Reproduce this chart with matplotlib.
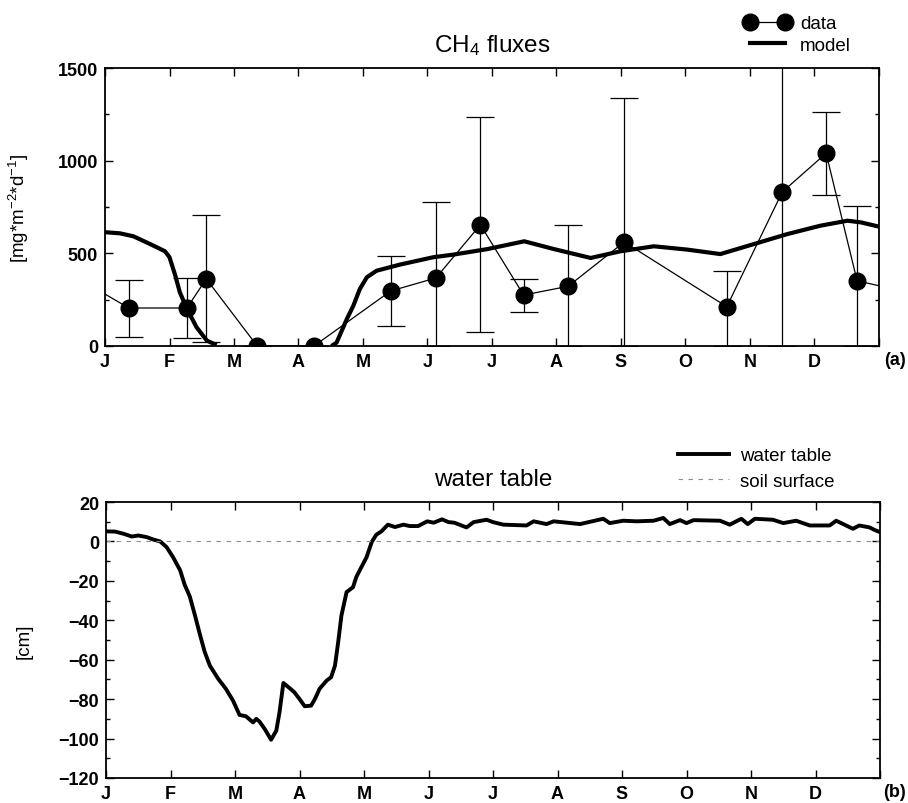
import numpy as np
import matplotlib
matplotlib.use("Agg")
import matplotlib.pyplot as plt
from matplotlib.lines import Line2D
from matplotlib.ticker import MultipleLocator

plt.rcParams['font.family'] = ['Liberation Sans', 'DejaVu Sans']
plt.rcParams['mathtext.fontset'] = 'custom'
plt.rcParams['mathtext.rm'] = 'Liberation Sans'
plt.rcParams['mathtext.it'] = 'Liberation Sans:italic'

month_labels = ["J", "F", "M", "A", "M", "J", "J", "A", "S", "O", "N", "D"]

# measured CH4 fluxes (x = months since 1 Jan)
flux_month = [0.37, 1.27, 1.57, 2.36, 3.24, 4.43, 5.13, 5.82, 6.49, 7.18, 8.05, 9.64, 10.50, 11.18, 11.66]
flux_value = [205, 205, 362, 0, 0, 297, 367, 654, 275, 322, 561, 212, 831, 1040, 352]
flux_low = [50, 43, 20, 0, 0, 107, 0, 74, 185, 0, 0, 0, 0, 816, 0]
flux_high = [355, 367, 708, 0, 0, 487, 779, 1234, 362, 655, 1337, 406, 1700, 1264, 757]
# data line wraps to the year edges
flux_edge_month = [0, 12]
flux_edge_value = [280, 325]

# modelled CH4 flux
model_month = [0, 0.23, 0.44, 0.70, 0.93, 1.0, 1.09, 1.16, 1.27, 1.42, 1.58, 1.73,
               2.6, 3.51, 3.59, 3.75, 3.85, 3.95, 4.06, 4.21, 4.57, 5.09, 5.40, 5.93,
               6.50, 6.96, 7.53, 7.99, 8.51, 9.03, 9.54, 10.06, 10.58, 11.09, 11.51, 11.72, 12.0]
model_value = [614, 608, 592, 550, 511, 479, 380, 290, 200, 101, 29, 5,
               np.nan, 0, 18, 146, 217, 307, 371, 406, 439, 479, 493, 523,
               565, 523, 475, 511, 538, 520, 496, 550, 604, 649, 676, 667, 644]

# water table [cm]
wt_month = [0, 0.14, 0.27, 0.40, 0.50, 0.63, 0.73, 0.84, 0.94, 1.04, 1.15, 1.22, 1.30, 1.38,
            1.46, 1.53, 1.61, 1.74, 1.86, 1.97, 2.07, 2.17, 2.28, 2.33, 2.38, 2.46, 2.56,
            2.64, 2.69, 2.75, 2.85, 2.92, 3.0, 3.08, 3.18, 3.24, 3.31, 3.42, 3.49, 3.55,
            3.60, 3.65, 3.73, 3.83, 3.88, 3.96, 4.04, 4.12, 4.19, 4.27, 4.37, 4.48, 4.61,
            4.71, 4.84, 4.98, 5.08, 5.21, 5.31, 5.40, 5.59, 5.70, 5.90, 6.0, 6.16, 6.52,
            6.63, 6.83, 6.94, 7.35, 7.71, 7.81, 8.02, 8.23, 8.49, 8.64, 8.74, 8.90, 9.0,
            9.11, 9.52, 9.67, 9.85, 9.95, 10.06, 10.34, 10.50, 10.70, 10.91, 11.22, 11.32,
            11.43, 11.58, 11.68, 11.84, 11.91, 12.0]
wt_value = [5.1, 5, 3.9, 2.5, 3, 2.2, 1, 0, -2.9, -8, -14.7, -22, -28, -37.6,
            -47.7, -56, -63, -69.7, -74.8, -80.8, -88, -88.7, -91.8, -90, -91.4, -95.1, -100.6,
            -96, -86.7, -71.8, -74.5, -76.5, -79.9, -83.6, -83.3, -79.9, -74.8, -70.6, -68.9, -63,
            -51, -37.6, -25.7, -23.2, -18.1, -13, -8, -0.3, 3.4, 5.1, 8.5, 7.3, 8.5,
            7.8, 7.8, 10.2, 9.5, 11.2, 9.8, 9.5, 7.1, 9.8, 11, 9.8, 8.5, 8.1,
            10.2, 8.8, 10.2, 8.8, 11.5, 9.3, 10.5, 10.2, 10.5, 11.9, 8.8, 10.8, 9.3,
            10.8, 10.5, 8.5, 11.5, 8.8, 11.5, 11, 9.3, 10.5, 8.1, 8.1, 10.5,
            8.8, 6.4, 8.1, 7.1, 5.9, 4.7]
soil_surface = 0


def style_axes(ax):
    ax.set_xlim(0, 12)
    ax.set_xticks(range(13))
    ax.set_xticklabels(month_labels + [""])
    ax.tick_params(axis="both", which="both", direction="in", top=True, right=True,
                   labelsize=13)
    ax.tick_params(axis="both", which="major", length=6, width=1, pad=5)
    ax.tick_params(axis="both", which="minor", length=3, width=1)
    for lbl in ax.get_xticklabels() + ax.get_yticklabels():
        lbl.set_fontweight("bold")
    for sp in ax.spines.values():
        sp.set_linewidth(1.3)
    ax.yaxis.set_label_coords(-0.095, 0.5)


fig = plt.figure(figsize=(9.08, 8.04), dpi=100)

# (a) CH4 fluxes
ax1 = fig.add_axes([105 / 908, 1 - 347 / 804, 774 / 908, 278 / 804])
vals = np.array(flux_value)
yerr = [vals - np.array(flux_low), np.array(flux_high) - vals]
ax1.errorbar(flux_month, flux_value, yerr=yerr, fmt="none", ecolor="black",
             elinewidth=0.9, capsize=10, capthick=0.9)
line_x = [flux_edge_month[0]] + flux_month + [flux_edge_month[1]]
line_y = [flux_edge_value[0]] + flux_value + [flux_edge_value[1]]
ax1.plot(line_x, line_y, color="black", lw=0.9, zorder=3)
ax1.plot(flux_month, flux_value, "o", color="black", ms=12, zorder=4)
ax1.plot(model_month, model_value, color="black", lw=3, zorder=3, solid_capstyle="butt")
ax1.set_ylim(0, 1500)
ax1.yaxis.set_major_locator(MultipleLocator(500))
ax1.yaxis.set_minor_locator(MultipleLocator(250))
style_axes(ax1)
ax1.set_ylabel(r"[mg*m$^{-2}$*d$^{-1}$]", fontsize=13.5)
ax1.set_title(r"CH$_4$ fluxes", fontsize=17.5, pad=12)
fig.text(906 / 908, 1 - 352 / 804, "(a)", fontsize=13, fontweight="bold",
         va="top", ha="right")
h_data = Line2D([], [], color="black", lw=0.9, marker="o", ms=12)
h_model = Line2D([], [], color="black", lw=3)
fig.legend([h_data, h_model], ["data", "model"], loc="upper left",
           bbox_to_anchor=(744 / 908, 1 - 16 / 804), frameon=False, fontsize=13.5,
           numpoints=2, handlelength=2.5, handletextpad=0.5, labelspacing=0.25,
           borderpad=0, borderaxespad=0)

# (b) water table
ax2 = fig.add_axes([106 / 908, 1 - 779 / 804, 774 / 908, 276 / 804])
ax2.plot(wt_month, wt_value, color="black", lw=2.8)
ax2.axhline(soil_surface, color="0.55", lw=0.8, ls=(0, (4, 5)))
ax2.set_ylim(-120, 20)
ax2.yaxis.set_major_locator(MultipleLocator(20))
ax2.yaxis.set_minor_locator(MultipleLocator(10))
style_axes(ax2)
ax2.set_ylabel("[cm]", fontsize=13.5)
ax2.set_title("water table", fontsize=17.5, pad=12)
fig.text(906 / 908, 1 - 784 / 804, "(b)", fontsize=13, fontweight="bold",
         va="top", ha="right")
h_wt = Line2D([], [], color="black", lw=2.8)
h_soil = Line2D([], [], color="0.55", lw=0.8, ls=(0, (4, 5)))
fig.legend([h_wt, h_soil], ["water table", "soil surface"], loc="upper left",
           bbox_to_anchor=(678 / 908, 1 - 448 / 804), frameon=False, fontsize=13.5,
           handlelength=2.7, handletextpad=0.6, labelspacing=0.45,
           borderpad=0, borderaxespad=0)

fig.savefig("out.png", dpi=100)
